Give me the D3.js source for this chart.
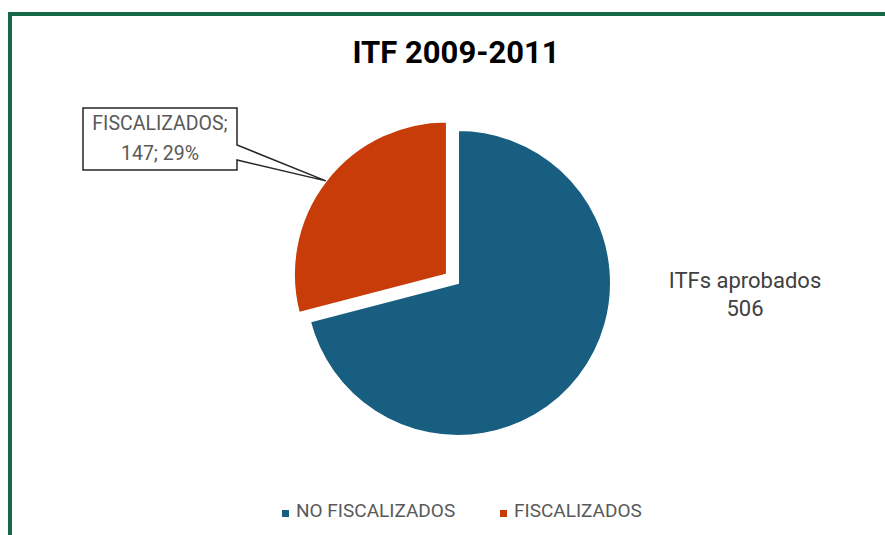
<!DOCTYPE html>
<html>
<head>
<meta charset="utf-8">
<script src="https://cdn.jsdelivr.net/npm/d3@7"></script>
<style>
  body { margin: 0; background: #fff; }
  text { font-family: Roboto, "Liberation Sans", sans-serif; }
</style>
</head>
<body>
<div id="pie_plot"></div>
<script>
// data
let categories = ["NO FISCALIZADOS", "FISCALIZADOS"];
let values = [359, 147];
let total_label = ["ITFs aprobados", "506"];
let colors = ["#175e80", "#c83c0a"];

let width = 885, height = 535;
let cx = 458, cy = 283, radius = 153;
let explode = 14;

let svg = d3.select("#pie_plot")
    .append("svg")
    .attr("width", width)
    .attr("height", height);

// green frame (only top and left visible)
svg.append("rect")
    .attr("x", 10)
    .attr("y", 14)
    .attr("width", width + 20)
    .attr("height", height + 20)
    .attr("fill", "white")
    .attr("stroke", "#166a47")
    .attr("stroke-width", 4);

// title
svg.append("text")
    .attr("x", 456)
    .attr("y", 63)
    .attr("text-anchor", "middle")
    .attr("font-size", "31px")
    .attr("font-weight", "bold")
    .attr("fill", "#000")
    .text("ITF 2009-2011");

let pie = d3.pie().sort(null).value(function(d) { return d; });
let arcs = pie(values);

let arc = d3.arc().innerRadius(0).outerRadius(radius);
let edge = d3.arc().innerRadius(radius).outerRadius(radius);

// offset of each slice (only the second one is pulled out)
function offset(d, i) {
    if (i == 0) return [0, 0];
    let a = (d.startAngle + d.endAngle) / 2;
    return [Math.sin(a) * explode, -Math.cos(a) * explode];
}

let g = svg.append("g")
    .attr("transform", "translate(" + cx + "," + cy + ")");

g.selectAll("path")
    .data(arcs)
    .enter()
    .append("path")
    .attr("d", arc)
    .attr("transform", function(d, i) {
        let o = offset(d, i);
        return "translate(" + o[0] + "," + o[1] + ")";
    })
    .attr("fill", function(d, i) { return colors[i]; })
    .attr("stroke", "white")
    .attr("stroke-width", 2);

// callout for FISCALIZADOS
let red = arcs[1];
let o = offset(red, 1);
let tip = edge.centroid(red);
let tx = cx + tip[0] + o[0], ty = cy + tip[1] + o[1];
let box = {x: 83, y: 108, w: 154, h: 62};
let pct = Math.round(values[1] / d3.sum(values) * 100);

svg.append("path")
    .attr("d", "M" + box.x + "," + box.y +
          "H" + (box.x + box.w) +
          "V" + (box.y + 37) +
          "L" + tx + "," + ty +
          "L" + (box.x + box.w) + "," + (box.y + 52) +
          "V" + (box.y + box.h) +
          "H" + box.x + "Z")
    .attr("fill", "white")
    .attr("stroke", "#262626")
    .attr("stroke-width", 1.5);

svg.append("text")
    .attr("x", box.x + box.w / 2)
    .attr("y", box.y + 22)
    .attr("text-anchor", "middle")
    .attr("font-size", "19.5px")
    .attr("fill", "#595959")
    .text(categories[1] + ";");
svg.append("text")
    .attr("x", box.x + box.w / 2)
    .attr("y", box.y + 52)
    .attr("text-anchor", "middle")
    .attr("font-size", "19.5px")
    .attr("fill", "#595959")
    .text(values[1] + "; " + pct + "%");

// label to the right
svg.selectAll(".total")
    .data(total_label)
    .enter()
    .append("text")
    .attr("x", cx + radius + 134)
    .attr("y", function(d, i) { return 288 + i * 28; })
    .attr("text-anchor", "middle")
    .attr("font-size", "22px")
    .attr("fill", "#404040")
    .text(function(d) { return d; });

// legend
let legend_x = [282, 500];
let lg = svg.selectAll(".legend")
    .data(categories)
    .enter()
    .append("g")
    .attr("transform", function(d, i) { return "translate(" + legend_x[i] + ",517)"; });
lg.append("rect")
    .attr("x", 0)
    .attr("y", -7)
    .attr("width", 7)
    .attr("height", 7)
    .attr("fill", function(d, i) { return colors[i]; });
lg.append("text")
    .attr("x", 14)
    .attr("y", 0)
    .attr("font-size", "19px")
    .attr("fill", "#595959")
    .text(function(d) { return d; });
</script>
</body>
</html>
